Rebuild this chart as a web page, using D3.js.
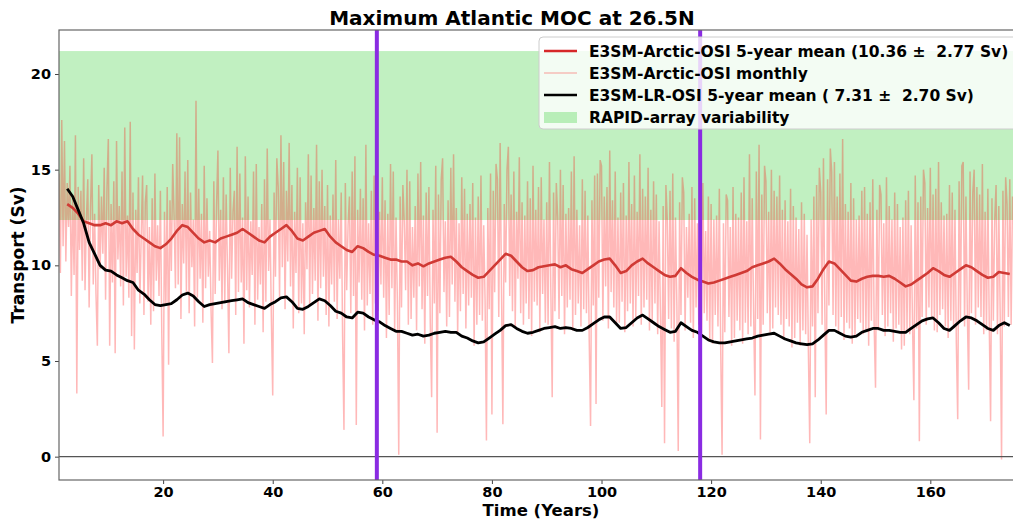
<!DOCTYPE html>
<html>
<head>
<meta charset="utf-8">
<script src="https://cdn.jsdelivr.net/npm/d3@7"></script>
<style>
  body { margin: 0; background: #fff; }
  svg { font-family: "DejaVu Sans", sans-serif; font-weight: bold; }
  text { white-space: pre; }
</style>
</head>
<body>
<svg id="chart" width="1013" height="519"></svg>
<script>
// monthly series, sampled every quarter year starting at year 1
const monthlyStart = 1;
const monthlyStep = 0.25;
const arcticMonthly = [
  14.8, 9.6, 17.6, 11.0,  16.5, 10.2, 14.3, 12.0,  15.2, 8.4, 13.5, 9.5,  16.8, 3.3, 14.1, 10.8,
  13.9, 9.2, 15.6, 8.7,  12.4, 14.5, 7.8, 13.0,  15.8, 9.0, 12.7, 8.5,  5.8, 14.2, 9.8, 13.6,
  10.6, 15.1, 8.2, 14.0,  16.6, 5.8, 13.2, 9.1,  14.4, 5.4, 16.5, 10.3,  13.1, 8.9, 14.9, 7.9,
  17.2, 9.4, 12.6, 8.3,  17.5, 6.3, 13.8, 5.6,  12.9, 9.6, 14.6, 8.0,  11.5, 14.7, 7.4, 13.3,
  14.2, 8.1, 12.0, 6.9,  13.5, 7.6, 14.8, 9.2,  12.1, 8.4, 13.9, 6.6,  1.05, 12.8, 7.9, 14.1,
  4.8, 13.4, 9.7, 15.3,  12.6, 8.8, 16.9, 9.0,  16.7, 7.2, 13.2, 10.1,  14.9, 8.6, 15.5, 7.5,
  13.8, 9.9, 12.4, 6.8,  18.6, 8.3, 14.0, 9.3,  12.7, 7.0, 15.2, 8.8,  13.5, 9.4, 11.8, 7.6,
  4.9, 14.4, 8.5, 13.1,  16.0, 9.2, 12.9, 7.7,  14.6, 8.0, 13.7, 9.8,  5.4, 15.1, 9.3, 12.8,
  13.9, 7.4, 16.2, 8.6,  14.8, 9.1, 12.5, 5.9,  15.7, 8.7, 13.6, 7.8,  12.3, 9.5, 14.9, 6.9,
  15.3, 8.2, 12.0, 9.0,  13.2, 6.5, 14.5, 8.1,  16.1, 9.7, 12.4, 7.3,  3.2, 13.8, 9.4, 15.6,
  14.1, 8.3, 16.8, 9.9,  15.4, 7.7, 13.9, 10.2,  16.4, 8.9, 14.2, 6.7,  12.8, 9.6, 15.1, 7.5,
  14.6, 8.0, 12.2, 6.4,  13.3, 9.8, 15.8, 7.9,  14.7, 8.5, 13.0, 9.2,  16.3, 7.1, 14.4, 8.8,
  15.0, 9.4, 13.1, 7.4,  14.2, 6.8, 12.6, 9.0,  13.7, 8.1, 15.5, 7.2,  12.4, 9.3, 13.8, 6.3,
  1.4, 14.3, 8.7, 12.1,  13.6, 7.5, 14.9, 8.4,  15.7, 1.65, 12.9, 9.1,  14.0, 8.2, 13.5, 6.6,
  16.3, 7.9, 12.2, 8.5,  13.9, 6.9, 14.7, 8.0,  16.5, 7.6, 12.8, 9.0,  14.6, 8.3, 13.4, 6.2,
  12.7, 7.4, 15.3, 8.8,  14.9, 6.5, 12.5, 8.1,  0.1, 13.6, 7.8, 14.2,  12.3, 8.7, 15.0, 6.9,
  14.4, 7.2, 12.0, 8.3,  13.1, 6.6, 14.8, 8.9,  15.4, 7.7, 12.6, 5.9,  13.8, 8.4, 14.1, 7.0,
  3.1, 12.9, 8.0, 15.2,  1.25, 13.7, 7.5, 14.5,  15.6, 8.6, 12.3, 6.8,  13.4, 7.3, 15.1, 9.0,
  15.8, 8.1, 13.0, 6.4,  12.2, 7.6, 14.6, 8.5,  14.0, 6.7, 12.7, 7.9,  13.2, 8.3, 14.3, 5.8,
  12.5, 6.9, 13.6, 7.4,  14.7, 7.1, 12.1, 8.2,  0.85, 13.0, 7.7, 14.8,  2.2, 13.9, 8.6, 15.3,
  14.5, 7.3, 16.4, 8.8,  1.7, 13.2, 9.1, 15.0,  16.2, 8.4, 13.7, 7.6,  14.9, 6.8, 12.8, 9.3,
  15.65, 7.5, 13.3, 6.9,  12.6, 8.0, 14.4, 7.2,  13.5, 6.3, 15.2, 8.1,  12.9, 7.9, 14.1, 6.5,
  14.6, 8.5, 12.4, 7.0,  13.3, 6.9, 15.4, 8.7,  3.1, 13.8, 7.6, 14.3,  12.5, 7.2, 15.0, 8.4,
  14.2, 6.4, 12.7, 7.8,  13.0, 8.2, 14.9, 6.6,  15.7, 7.4, 12.9, 8.0,  12.1, 6.8, 14.5, 7.7,
  13.9, 7.5, 12.6, 6.2,  1.6, 13.4, 7.9, 14.7,  2.75, 14.8, 8.3, 15.5,  15.2, 7.1, 13.6, 8.9,
  14.1, 6.7, 16.0, 8.6,  13.4, 7.8, 14.9, 6.9,  12.5, 7.0, 13.8, 8.1,  14.3, 6.5, 12.6, 7.6,
  15.4, 8.0, 13.2, 6.8,  14.7, 7.3, 12.8, 8.4,  15.8, 6.9, 14.0, 7.8,  13.6, 8.2, 15.1, 6.6,
  12.9, 7.1, 14.4, 8.0,  13.7, 6.4, 12.3, 7.5,  2.6, 13.1, 0.7, 14.2,  12.4, 7.2, 13.9, 6.7,
  14.8, 6.0, 12.5, 7.9,  0.3, 13.3, 7.4, 14.6,  13.8, 6.6, 12.0, 8.3,  12.7, 7.0, 14.1, 6.2,
  13.5, 7.8, 12.2, 6.9,  12.9, 6.4, 14.3, 7.5,  11.8, 7.1, 13.6, 6.0,  13.2, 5.9, 12.4, 7.4,
  12.6, 6.8, 14.0, 5.6,  0.1, 12.2, 6.5, 13.7,  13.4, 7.3, 12.0, 5.8,  14.1, 6.2, 12.7, 7.1,
  12.5, 6.6, 13.8, 5.9,  14.6, 7.0, 12.3, 6.4,  15.8, 6.8, 13.5, 7.6,  3.2, 14.9, 7.2, 16.3,
  0.9, 13.7, 6.9, 15.2,  14.4, 7.5, 12.8, 6.5,  15.0, 6.7, 13.9, 7.8,  13.6, 7.4, 14.7, 6.9,
  12.9, 6.1, 13.4, 7.2,  12.3, 6.8, 14.0, 5.7,  13.1, 6.2, 12.5, 7.0,  11.9, 5.8, 13.3, 6.6,
  12.7, 6.4, 11.6, 5.5,  0.7, 12.4, 6.8, 13.6,  3.1, 14.2, 7.5, 15.1,  13.8, 6.9, 15.6, 7.7,
  2.2, 14.5, 7.9, 16.1,  14.9, 7.4, 15.4, 6.8,  13.6, 6.5, 14.8, 7.3,  16.6, 6.1, 13.2, 7.0,
  12.8, 6.7, 14.3, 5.9,  13.5, 6.3, 12.4, 7.2,  12.6, 7.0, 13.9, 6.4,  14.1, 6.6, 12.7, 5.8,
  13.3, 7.1, 14.5, 6.9,  3.6, 12.9, 6.6, 14.2,  13.7, 7.4, 12.2, 6.3,  14.6, 6.8, 13.1, 7.5,
  12.4, 6.0, 13.8, 6.7,  13.2, 6.9, 12.0, 5.6,  12.5, 5.8, 13.4, 6.5,  13.9, 6.4, 12.1, 7.0,
  2.95, 14.7, 6.7, 13.3,  0.8, 13.6, 7.3, 15.0,  14.3, 6.9, 13.0, 7.8,  15.1, 7.2, 13.7, 6.6,
  14.0, 6.5, 15.4, 7.4,  13.3, 7.7, 12.6, 6.8,  12.7, 6.2, 14.2, 7.1,  13.8, 6.7, 12.9, 5.9,
  1.95, 14.4, 7.2, 15.2,  15.4, 6.8, 13.6, 7.6,  3.5, 14.9, 7.5, 13.8,  15.0, 6.9, 14.1, 7.8,
  13.7, 7.3, 15.3, 6.4,  12.8, 6.6, 14.0, 7.0,  1.85, 13.5, 7.1, 12.4,  14.2, 6.4, 13.1, 7.4,
  -0.15, 13.9, 6.8, 14.6,  13.2, 7.3, 14.5, 6.9,  13.6
];

// 5-year running means, one value per year starting at year 2.5
const meanStart = 2.5;
const meanStep = 1;
const arcticMean = [
  13.2, 13.0, 12.7, 12.3, 12.2, 12.1, 12.1, 12.2, 12.1, 12.3, 12.2, 12.3, 11.9, 11.6, 11.4, 11.2,
  11.0, 10.9, 11.1, 11.4, 11.8, 12.1, 12.0, 11.7, 11.4, 11.2, 11.3, 11.2, 11.4, 11.5, 11.6, 11.7,
  11.9, 11.7, 11.5, 11.3, 11.2, 11.5, 11.7, 11.9, 12.1, 11.8, 11.4, 11.3, 11.5, 11.7, 11.8, 11.9,
  11.5, 11.2, 11.0, 10.8, 10.7, 11.0, 10.9, 10.7, 10.55, 10.5, 10.4, 10.3, 10.3, 10.2, 10.2, 10.0,
  10.1, 9.95, 10.1, 10.2, 10.3, 10.4, 10.45, 10.2, 9.9, 9.7, 9.5, 9.35, 9.4, 9.7, 10.0, 10.3,
  10.6, 10.5, 10.2, 9.9, 9.7, 9.75, 9.9, 9.95, 10.0, 10.05, 9.9, 10.0, 9.8, 9.7, 9.6, 9.8,
  10.0, 10.2, 10.3, 10.35, 10.0, 9.6, 9.7, 10.0, 10.2, 10.35, 10.1, 9.9, 9.7, 9.5, 9.4, 9.45,
  9.85, 9.6, 9.4, 9.25, 9.15, 9.05, 9.1, 9.2, 9.3, 9.4, 9.5, 9.6, 9.7, 9.9, 10.0, 10.1,
  10.2, 10.35, 10.1, 9.8, 9.55, 9.3, 9.0, 8.85, 8.9, 9.3, 9.8, 10.2, 10.1, 9.8, 9.5, 9.2,
  9.15, 9.3, 9.4, 9.45, 9.45, 9.4, 9.45, 9.3, 9.1, 8.9, 9.0, 9.2, 9.4, 9.6, 9.85, 9.7,
  9.5, 9.4, 9.6, 9.8, 10.0, 9.9, 9.7, 9.5, 9.35, 9.4, 9.65, 9.6, 9.55
];
const lrMean = [
  14.0, 13.6, 12.9, 12.2, 11.2, 10.6, 10.0, 9.75, 9.7, 9.5, 9.35, 9.2, 9.1, 8.7, 8.5, 8.2,
  7.95, 7.9, 7.95, 8.0, 8.2, 8.45, 8.55, 8.4, 8.1, 7.85, 7.95, 8.0, 8.05, 8.1, 8.15, 8.2,
  8.25, 8.05, 7.95, 7.85, 7.75, 7.95, 8.1, 8.3, 8.35, 8.1, 7.75, 7.7, 7.85, 8.05, 8.25, 8.15,
  7.9, 7.6, 7.5, 7.3, 7.25, 7.55, 7.5, 7.3, 7.15, 7.05, 6.85, 6.7, 6.55, 6.55, 6.45, 6.35,
  6.4, 6.3, 6.35, 6.45, 6.5, 6.55, 6.5, 6.5, 6.3, 6.2, 6.05, 5.95, 6.0, 6.2, 6.4, 6.6,
  6.85, 6.9, 6.7, 6.55, 6.45, 6.5, 6.6, 6.7, 6.75, 6.8, 6.7, 6.75, 6.7, 6.6, 6.6, 6.75,
  6.95, 7.15, 7.3, 7.3, 7.0, 6.7, 6.75, 7.0, 7.25, 7.4, 7.2, 7.0, 6.8, 6.65, 6.5, 6.55,
  7.0, 6.8, 6.6, 6.5, 6.3, 6.1, 6.0, 5.95, 5.95, 6.0, 6.05, 6.1, 6.15, 6.2, 6.3, 6.35,
  6.4, 6.45, 6.3, 6.15, 6.05, 5.95, 5.9, 5.85, 5.9, 6.1, 6.35, 6.6, 6.6, 6.45, 6.3, 6.25,
  6.3, 6.5, 6.6, 6.7, 6.7, 6.6, 6.6, 6.55, 6.5, 6.5, 6.7, 6.9, 7.1, 7.2, 7.25, 7.0,
  6.7, 6.6, 6.85, 7.1, 7.3, 7.25, 7.1, 6.9, 6.7, 6.6, 6.85, 7.0, 6.85
];

const rapidRange = [12.37, 21.2];
const markerYears = [59, 118];
const xTicks = [20, 40, 60, 80, 100, 120, 140, 160];
const yTicks = [0, 5, 10, 15, 20];
const legendLabels = [
  "E3SM-Arctic-OSI 5-year mean (10.36 \u00b1  2.77 Sv)",
  "E3SM-Arctic-OSI monthly",
  "E3SM-LR-OSI 5-year mean ( 7.31 \u00b1  2.70 Sv)",
  "RAPID-array variability"
];

const svg = d3.select("#chart");
const plotLeft = 59, plotRight = 1018, plotTop = 30, plotBottom = 480;

const x = d3.scaleLinear().domain([1, 176]).range([plotLeft, plotRight]);
const y = d3.scaleLinear().domain([-1.22, 22.3]).range([plotBottom, plotTop]);

const toPoints = (arr, start, step) => arr.map((v, i) => [start + i * step, v]);
const line = d3.line().x(d => x(d[0])).y(d => y(d[1]));

svg.append("defs").append("clipPath").attr("id", "plot-clip")
  .append("rect")
  .attr("x", plotLeft).attr("y", plotTop)
  .attr("width", plotRight - plotLeft).attr("height", plotBottom - plotTop);

const plot = svg.append("g").attr("clip-path", "url(#plot-clip)");

// RAPID band
plot.append("rect")
  .attr("x", plotLeft).attr("width", plotRight - plotLeft)
  .attr("y", y(rapidRange[1]))
  .attr("height", y(rapidRange[0]) - y(rapidRange[1]))
  .attr("fill", "limegreen").attr("fill-opacity", 0.3);

// monthly
plot.append("path")
  .datum(toPoints(arcticMonthly, monthlyStart, monthlyStep))
  .attr("d", line)
  .attr("fill", "none")
  .attr("stroke", "red").attr("stroke-opacity", 0.28)
  .attr("stroke-width", 1.5);

plot.append("path")
  .datum(toPoints(arcticMean, meanStart, meanStep))
  .attr("d", line)
  .attr("fill", "none")
  .attr("stroke", "#d03a35").attr("stroke-width", 2.6)
  .attr("stroke-linejoin", "round");

plot.append("path")
  .datum(toPoints(lrMean, meanStart, meanStep))
  .attr("d", line)
  .attr("fill", "none")
  .attr("stroke", "#000").attr("stroke-width", 2.8)
  .attr("stroke-linejoin", "round");

// zero line
plot.append("line")
  .attr("x1", plotLeft).attr("x2", plotRight)
  .attr("y1", y(0)).attr("y2", y(0))
  .attr("stroke", "#555").attr("stroke-width", 1.2);

// marker years
plot.selectAll(".marker")
  .data(markerYears)
  .join("line")
  .attr("class", "marker")
  .attr("x1", d => x(d)).attr("x2", d => x(d))
  .attr("y1", plotTop).attr("y2", plotBottom)
  .attr("stroke", "blueviolet").attr("stroke-width", 4);

// axes
const xAxis = d3.axisBottom(x).tickValues(xTicks).tickSize(4).tickPadding(3);
const yAxis = d3.axisLeft(y).tickValues(yTicks).tickSize(4).tickPadding(4);

const gx = svg.append("g").attr("transform", `translate(0,${plotBottom})`).call(xAxis);
const gy = svg.append("g").attr("transform", `translate(${plotLeft},0)`).call(yAxis);
[gx, gy].forEach(g => {
  g.select(".domain").remove();
  g.selectAll(".tick line").attr("stroke", "#444");
  g.selectAll(".tick text")
    .attr("fill", "#000")
    .style("font-size", "14.5px")
    .style("font-weight", "bold")
    .style("font-family", "DejaVu Sans, sans-serif");
});

// frame
svg.append("rect")
  .attr("x", plotLeft).attr("y", plotTop)
  .attr("width", plotRight - plotLeft).attr("height", plotBottom - plotTop)
  .attr("fill", "none").attr("stroke", "#666").attr("stroke-width", 1.2);

// labels
svg.append("text")
  .attr("x", 512).attr("y", 25)
  .attr("text-anchor", "middle")
  .style("font-size", "20px")
  .text("Maximum Atlantic MOC at 26.5N");

svg.append("text")
  .attr("x", 541).attr("y", 516)
  .attr("text-anchor", "middle")
  .style("font-size", "16.5px")
  .text("Time (Years)");

svg.append("text")
  .attr("transform", `translate(24,${(plotTop + plotBottom) / 2}) rotate(-90)`)
  .attr("text-anchor", "middle")
  .style("font-size", "17px")
  .text("Transport (Sv)");

// legend
const legend = svg.append("g").attr("transform", "translate(539,37)");
legend.append("rect")
  .attr("width", 480).attr("height", 92)
  .attr("rx", 4)
  .attr("fill", "#fff").attr("fill-opacity", 0.8)
  .attr("stroke", "#ccc").attr("stroke-width", 1);

const rows = legend.selectAll(".row")
  .data(legendLabels)
  .join("g")
  .attr("class", "row")
  .attr("transform", (d, i) => `translate(0,${14 + i * 22})`);

rows.each(function (d, i) {
  const g = d3.select(this);
  if (i === 3) {
    g.append("rect")
      .attr("x", 5).attr("y", -5).attr("width", 33).attr("height", 11)
      .attr("fill", "limegreen").attr("fill-opacity", 0.3);
  } else {
    g.append("line")
      .attr("x1", 5).attr("x2", 38).attr("y1", 0).attr("y2", 0)
      .attr("stroke", ["#d62728", "red", "#000"][i])
      .attr("stroke-opacity", i === 1 ? 0.25 : 1)
      .attr("stroke-width", i === 1 ? 1.5 : 2.6);
  }
  g.append("text")
    .attr("x", 50).attr("y", 5.5)
    .style("font-size", "15.5px")
    .text(d);
});
</script>
</body>
</html>
